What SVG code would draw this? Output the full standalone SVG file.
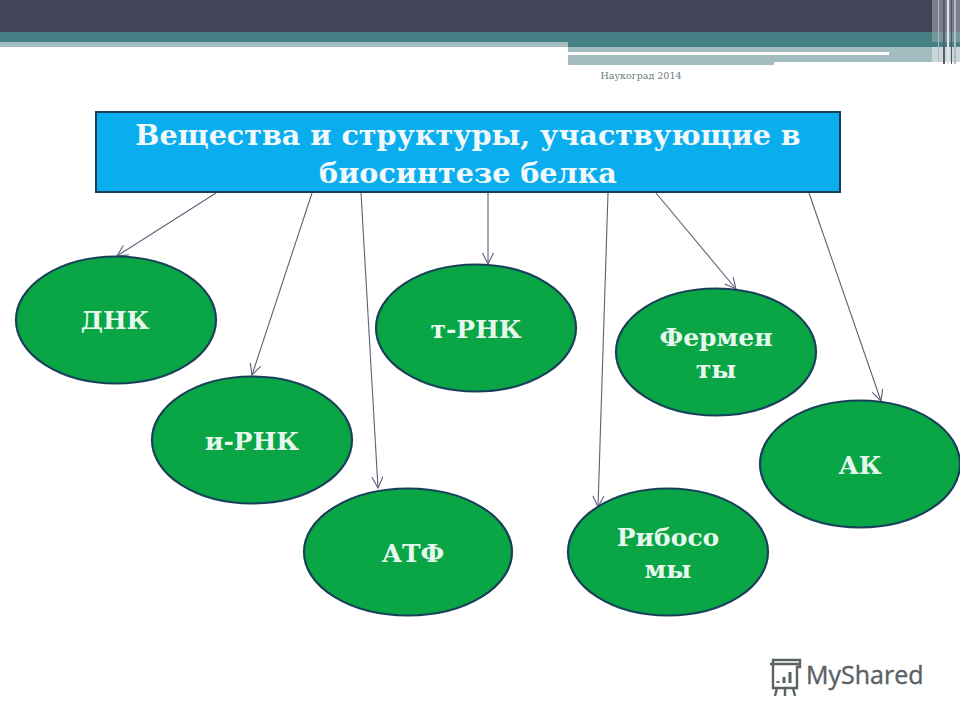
<svg xmlns="http://www.w3.org/2000/svg" width="960" height="720" viewBox="0 0 960 720">
<style>
.n{fill:#0aa544;stroke:#17405a;stroke-width:2.2}
.t{font-family:"DejaVu Serif",serif;font-weight:bold;font-size:25px;fill:#e6f7ee;text-anchor:middle}
.h{font-family:"DejaVu Serif",serif;font-weight:bold;font-size:28.6px;fill:#f2f9fb;text-anchor:middle}
.c line{stroke:#5f5f7a;stroke-width:1.1;fill:none}
</style>
<defs><marker id="a" markerUnits="userSpaceOnUse" markerWidth="14" markerHeight="14" refX="12" refY="6" orient="auto"><path d="M1 0.5L12 6L1 11.5" fill="none" stroke="#5f5f7a" stroke-width="1.1"/></marker></defs>
<rect width="960" height="720" fill="#fff"/>
<g id="banner">
<rect width="960" height="32" fill="#424558"/>
<rect y="32" width="960" height="10" fill="#458085"/>
<rect y="42" width="568" height="5" fill="#a3bcbf"/>
<rect x="568" y="47" width="392" height="15" fill="#a3bcbf"/>
<rect x="568" y="42" width="392" height="5" fill="#458085"/>
<rect x="568" y="52" width="321" height="3" fill="#fff"/>
<rect x="568" y="62" width="206" height="3" fill="#a3bcbf"/>
<rect x="932" y="0" width="28" height="32" fill="#7b7d8e"/>
<rect x="932" y="32" width="28" height="10" fill="#74999c"/>
<rect x="932" y="47" width="28" height="15" fill="#c9d8d9"/>
<rect x="943" y="0" width="2" height="64" fill="#5a5c6e"/>
<rect x="947" y="0" width="2" height="64" fill="#e4e5ea"/>
<rect x="951" y="0" width="1" height="64" fill="#50525f"/>
<rect x="954" y="0" width="2" height="64" fill="#b5b7c2"/>
<rect x="938" y="0" width="1" height="62" fill="#b5b7c2"/>
</g>
<text id="date" x="641" y="79" font-family="DejaVu Serif,serif" font-size="9.5" fill="#6a7b7d" text-anchor="middle">Наукоград 2014</text>
<g id="connectors" class="c">
<line x1="216" y1="193" x2="117" y2="256" marker-end="url(#a)"/>
<line x1="312" y1="193" x2="252" y2="375" marker-end="url(#a)"/>
<line x1="361" y1="193" x2="378" y2="488" marker-end="url(#a)"/>
<line x1="488" y1="193" x2="488" y2="264" marker-end="url(#a)"/>
<line x1="608" y1="193" x2="598" y2="507" marker-end="url(#a)"/>
<line x1="656" y1="193" x2="736" y2="289" marker-end="url(#a)"/>
<line x1="809" y1="193" x2="881" y2="401" marker-end="url(#a)"/>
</g>
<g id="title"><rect x="96" y="112" width="744" height="80" fill="#0aaeef" stroke="#17405a" stroke-width="2"/>
<text class="h" x="468" y="145">Вещества и структуры, участвующие в</text>
<text class="h" x="468" y="183">биосинтезе белка</text></g>
<g id="dnk"><ellipse class="n" cx="116" cy="320" rx="100" ry="63.5"/><text class="t" x="115" y="329">ДНК</text></g>
<g id="irnk"><ellipse class="n" cx="252" cy="440" rx="100" ry="63.5"/><text class="t" x="252" y="450">и-РНК</text></g>
<g id="atf"><ellipse class="n" cx="408" cy="552" rx="104" ry="63.5"/><text class="t" x="413" y="562">АТФ</text></g>
<g id="trnk"><ellipse class="n" cx="476" cy="328" rx="100" ry="63.5"/><text class="t" x="476" y="338">т-РНК</text></g>
<g id="fermenty"><ellipse class="n" cx="716" cy="352" rx="100" ry="63.5"/><text class="t" x="716" y="346">Фермен</text><text class="t" x="716" y="378">ты</text></g>
<g id="ribosomy"><ellipse class="n" cx="668" cy="552" rx="100" ry="63.5"/><text class="t" x="668" y="546">Рибосо</text><text class="t" x="668" y="578">мы</text></g>
<g id="ak"><ellipse class="n" cx="860" cy="464" rx="100" ry="63.5"/><text class="t" x="860" y="474">АК</text></g>
<g id="logo" fill="none" stroke="#5a6264" stroke-width="2.4">
<path d="M773 664V660H800V664M770 664H800V667H797V688H773V664M777 688L775 696M785 688V696M793 688L795 696"/>
<path d="M778 683V681M784 683V677M790 683V672" stroke-width="3"/>
<text x="806" y="684" font-family="Open Sans,sans-serif" font-size="25" fill="#5a6264" stroke="#5a6264" stroke-width="0.4">MyShared</text>
</g>
</svg>
